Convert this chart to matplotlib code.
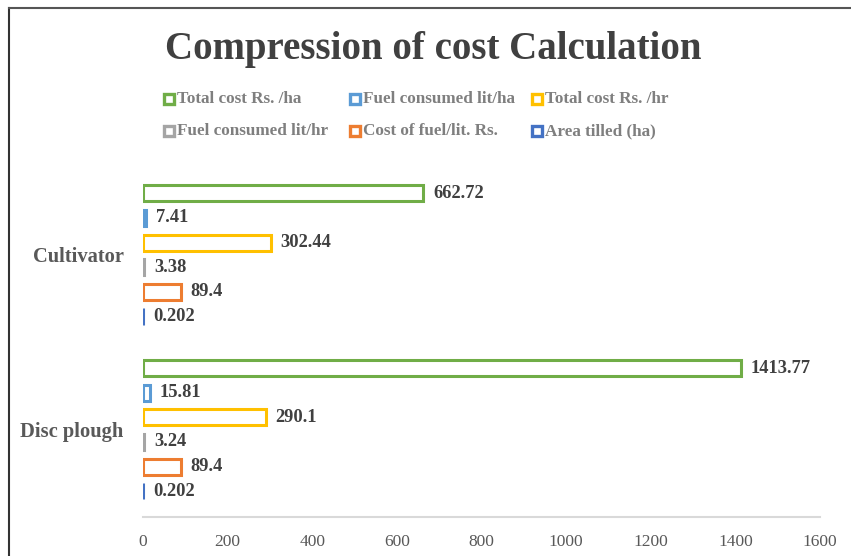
import matplotlib
matplotlib.use("Agg")
import matplotlib.pyplot as plt
from matplotlib.lines import Line2D
import numpy as np

categories = ["Disc plough", "Cultivator"]
series_names = ["Total cost Rs. /ha", "Fuel consumed lit/ha", "Total cost Rs. /hr",
                "Fuel consumed lit/hr", "Cost of fuel/lit. Rs.", "Area tilled (ha)"]
series_colors = ["#70AD47", "#5B9BD5", "#FFC000", "#A5A5A5", "#ED7D31", "#4472C4"]
# values per series: [Disc plough, Cultivator]
values = {
    "Total cost Rs. /ha": [1413.77, 662.72],
    "Fuel consumed lit/ha": [15.81, 7.41],
    "Total cost Rs. /hr": [290.1, 302.44],
    "Fuel consumed lit/hr": [3.24, 3.38],
    "Cost of fuel/lit. Rs.": [89.4, 89.4],
    "Area tilled (ha)": [0.202, 0.202],
}
x_ticks = [0, 200, 400, 600, 800, 1000, 1200, 1400, 1600]
title = "Compression of cost Calculation"

plt.rcParams['font.family'] = ['Liberation Serif', 'DejaVu Serif']

fig = plt.figure(figsize=(8.51, 5.56), dpi=100)
ax = fig.add_axes([143/851, 1-517/556, (820-143)/851, (517-167.5)/556])

slot = 0.141
bar_h = 0.092
n = len(series_names)
ypos = np.arange(len(categories))
for i, name in enumerate(series_names):
    off = (n - 1) / 2 * slot - i * slot
    vals = values[name]
    ax.barh(ypos + off, vals, height=bar_h, facecolor="white",
            edgecolor=series_colors[i], linewidth=2.2, zorder=3)
    for y, v in zip(ypos + off, vals):
        ax.annotate(str(v), xy=(v, y), xytext=(7, 0), textcoords="offset points",
                    ha="left", va="center", fontsize=13.3, fontweight="bold",
                    color="#404040")

ax.set_xlim(0, 1600)
ax.set_ylim(-0.5, 1.5)
ax.set_xticks(x_ticks)
ax.set_xticklabels([str(t) for t in x_ticks], fontsize=12.5, color="#595959")
ax.set_yticks(ypos)
ax.set_yticklabels(categories, fontsize=14.8, fontweight="bold", color="#595959")
ax.tick_params(axis="both", length=0)
ax.tick_params(axis="x", pad=12)
ax.tick_params(axis="y", pad=14)
for s in ["top", "right", "left"]:
    ax.spines[s].set_visible(False)
ax.spines["bottom"].set_color("#D9D9D9")
ax.spines["bottom"].set_linewidth(1.5)

fig.text(433/851, 1-50/556, title, ha="center", va="center", fontsize=28,
         fontweight="bold", color="#404040")

col_x = [169, 355, 537]
row_y = [99, 131]
for i, name in enumerate(series_names):
    r, c = divmod(i, 3)
    xm = col_x[c] / 851
    ym = 1 - row_y[r] / 556
    fig.add_artist(Line2D([xm], [ym], marker="s", markersize=7.5,
                          markerfacecolor="white", markeredgecolor=series_colors[i],
                          markeredgewidth=2.4, transform=fig.transFigure))
    fig.text(xm + 8/851, ym, name, ha="left", va="center", fontsize=12.3,
             fontweight="bold", color="#7F7F7F")

# outer frame lines (left and top)
fig.add_artist(Line2D([9/851, 9/851], [0, 1-8/556], color="#333333", linewidth=1.5,
                      transform=fig.transFigure))
fig.add_artist(Line2D([9/851, 1], [1-8/556, 1-8/556], color="#555555", linewidth=1.5,
                      transform=fig.transFigure))

fig.savefig("out.png", dpi=100, facecolor="white")
